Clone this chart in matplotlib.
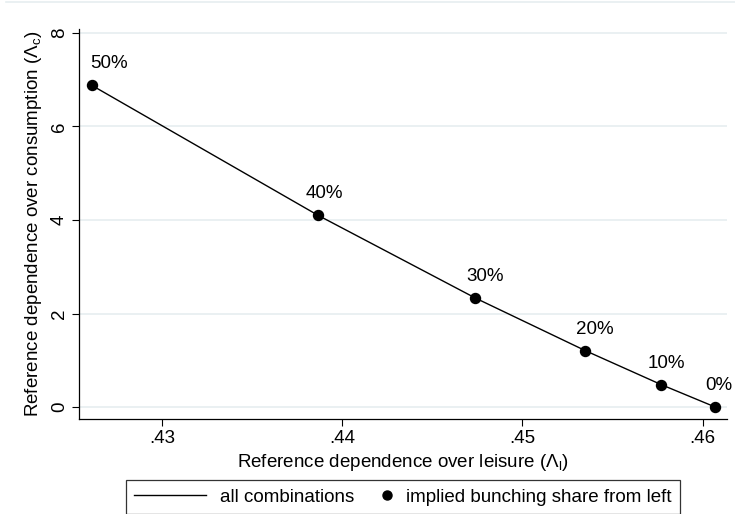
import numpy as np
import matplotlib
matplotlib.use("Agg")
import matplotlib.pyplot as plt
from matplotlib.lines import Line2D
from matplotlib.legend_handler import HandlerLine2DCompound

plt.rcParams["font.family"] = ["Liberation Sans", "DejaVu Sans"]
plt.rcParams["mathtext.fontset"] = "custom"
plt.rcParams["mathtext.rm"] = "Liberation Sans"
plt.rcParams["mathtext.it"] = "Liberation Sans:italic"

FS = 13.5

# ── Data ──────────────────────────────────────────────────────────────────────
lam_leisure = [0.42612, 0.43867, 0.4474, 0.4535, 0.4577, 0.4607]
lam_consumption = [6.88, 4.10, 2.33, 1.205, 0.48, 0.0]
share_labels = ["50%", "40%", "30%", "20%", "10%", "0%"]
x_ticks = [0.43, 0.44, 0.45, 0.46]
x_ticklabels = [".43", ".44", ".45", ".46"]
y_ticks = [0, 2, 4, 6, 8]

# label offsets (pixels) relative to each marker
label_dx = [17, 6, 10, 9, 5, 4]
label_dy = 17


class RightMarker(HandlerLine2DCompound):
    # put the single legend marker at the right end of the handle box
    def get_xdata(self, legend, xdescent, ydescent, width, height, fontsize):
        xd, xm = super().get_xdata(legend, xdescent, ydescent, width, height, fontsize)
        return xd, np.array([width - xdescent - 0.25 * fontsize])


fig = plt.figure(figsize=(7.35, 5.14), dpi=100)
ax = fig.add_axes([79 / 735, 1 - 419.3 / 514, (727 - 79) / 735, (419.3 - 29) / 514])

ax.plot(lam_leisure, lam_consumption, color="black", lw=1.0, zorder=3)
ax.plot(lam_leisure, lam_consumption, "o", color="black", ms=7.2, zorder=4)
for x, y, lab, dx in zip(lam_leisure, lam_consumption, share_labels, label_dx):
    ax.annotate(lab, (x, y), xytext=(dx, label_dy), textcoords="offset pixels",
                ha="center", va="baseline", fontsize=FS)

ax.set_xlim(0.42541, 0.46135)
ax.set_ylim(-0.262, 8.085)
ax.set_xticks(x_ticks)
ax.set_xticklabels(x_ticklabels)
ax.set_yticks(y_ticks)
ax.tick_params(direction="out", length=5, width=0.8, labelsize=FS, pad=3)
for lab in ax.get_yticklabels():
    lab.set_rotation(90)
    lab.set_va("center")

ax.spines["top"].set_visible(False)
ax.spines["right"].set_visible(False)
for s in ("left", "bottom"):
    ax.spines[s].set_linewidth(0.9)
ax.yaxis.grid(True, color="#e6eef0", lw=1.2)
ax.set_axisbelow(True)

ax.set_xlabel(r"Reference dependence over leisure ($\mathrm{\Lambda_l}$)", fontsize=FS, labelpad=3)
ax.set_ylabel(r"Reference dependence over consumption ($\mathrm{\Lambda_c}$)", fontsize=FS, labelpad=5)

# faint outline of the graph region at the top
fig.add_artist(Line2D([6 / 735, 1], [1 - 2 / 514] * 2, color="#e6eef0", lw=1.2))

h_line = Line2D([], [], color="black", lw=1.0)
h_dot = Line2D([], [], color="black", marker="o", ls="none", ms=6.5)
top = 1 - 480 / 514
fig.legend([h_line, h_dot], ["all combinations", "implied bunching share from left"],
           ncol=2, mode="expand", loc="upper left",
           bbox_to_anchor=(126 / 735, top - 0.1, 554 / 735, 0.1),
           fontsize=FS, frameon=True, fancybox=False, framealpha=1,
           edgecolor="#333333", borderpad=0.45, handlelength=3.8,
           handletextpad=0.75, borderaxespad=0,
           handler_map={h_dot: RightMarker()})
fig.legends[0].get_frame().set_linewidth(0.9)

fig.savefig("out.png", dpi=100)
